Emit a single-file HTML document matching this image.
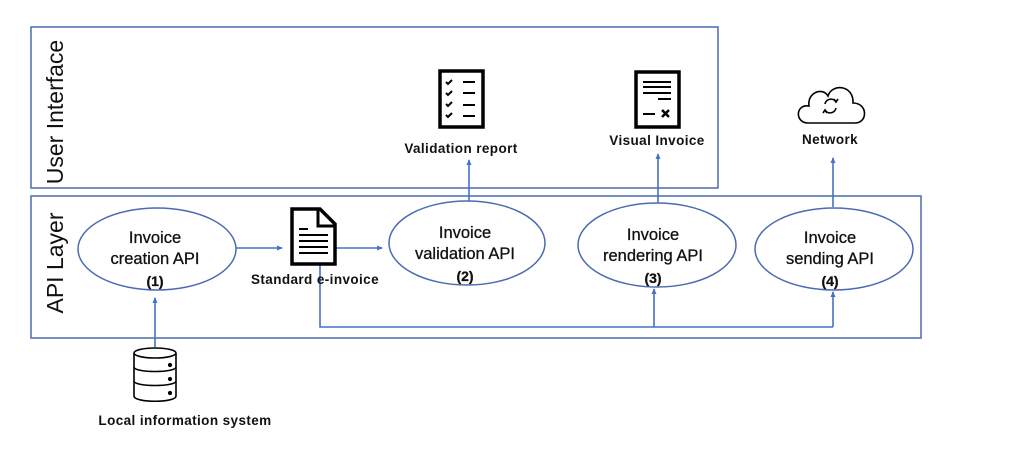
<!DOCTYPE html>
<html><head><meta charset="utf-8"><style>
body{margin:0;background:#fff;}
svg{display:block;font-family:"Liberation Sans",sans-serif;}
</style></head><body>
<svg width="1026" height="450" viewBox="0 0 1026 450" xmlns="http://www.w3.org/2000/svg">
<defs>
<marker id="ah" markerWidth="6" markerHeight="6" refX="5" refY="3" orient="auto" markerUnits="userSpaceOnUse">
<path d="M0,0.5 L6,3 L0,5.5 Z" fill="#4472c4"/></marker>
</defs>
<g fill="none" stroke="#4a6bb0" stroke-width="1.5">
<rect x="31" y="27" width="687" height="161"/>
<rect x="31" y="196" width="890" height="142"/>
<ellipse cx="157" cy="249" rx="79" ry="41"/>
<ellipse cx="467" cy="243" rx="78" ry="42"/>
<ellipse cx="657" cy="245" rx="79" ry="42"/>
<ellipse cx="834" cy="249" rx="79" ry="41"/>
</g>
<g fill="none" stroke="#4472c4" stroke-width="1.6">
<line x1="236" y1="248" x2="282" y2="248" marker-end="url(#ah)"/>
<line x1="336" y1="248" x2="382" y2="248" marker-end="url(#ah)"/>
<line x1="155" y1="347" x2="155" y2="298" marker-end="url(#ah)"/>
<polyline points="320,263 320,327 833,327"/>
<line x1="654" y1="327" x2="654" y2="289" marker-end="url(#ah)"/>
<line x1="833" y1="327" x2="833" y2="292" marker-end="url(#ah)"/>
<line x1="469" y1="201" x2="469" y2="160" marker-end="url(#ah)"/>
<line x1="658" y1="203" x2="658" y2="154" marker-end="url(#ah)"/>
<line x1="833" y1="207" x2="833" y2="158" marker-end="url(#ah)"/>
</g>
<text transform="translate(63,112) rotate(-90)" font-size="23" text-anchor="middle" fill="#111">User Interface</text>
<text transform="translate(63,263) rotate(-90)" font-size="23" text-anchor="middle" fill="#111">API Layer</text>
<g font-size="16.5" text-anchor="middle" fill="#111" stroke="#111" stroke-width="0.3">
<text x="155" y="243">Invoice</text><text x="155" y="264">creation API</text><text x="155" y="286" font-weight="bold" font-size="14">(1)</text>
<text x="465" y="238">Invoice</text><text x="465" y="259">validation API</text><text x="465" y="281" font-weight="bold" font-size="14">(2)</text>
<text x="653" y="240">Invoice</text><text x="653" y="261">rendering API</text><text x="653" y="283" font-weight="bold" font-size="14">(3)</text>
<text x="830" y="243">Invoice</text><text x="830" y="264">sending API</text><text x="830" y="286" font-weight="bold" font-size="14">(4)</text>
</g>
<g font-size="13.5" font-weight="bold" text-anchor="middle" fill="#111" letter-spacing="0.4">
<text x="315" y="284">Standard e-invoice</text>
<text x="461" y="153">Validation report</text>
<text x="657" y="145">Visual Invoice</text>
<text x="830" y="144">Network</text>
<text x="185" y="425">Local information system</text>
</g>
<g stroke="#000" fill="none">
<path d="M292,209 L320,209 L335,224 L335,264 L292,264 Z" stroke-width="3.5"/>
<path d="M318,209 L318,226 L335,226" stroke-width="3"/>
<g stroke-width="2"><line x1="299" y1="229" x2="308" y2="229"/><line x1="299" y1="235" x2="328" y2="235"/><line x1="299" y1="241" x2="328" y2="241"/><line x1="299" y1="247" x2="328" y2="247"/><line x1="299" y1="253" x2="328" y2="253"/></g>
</g>
<g stroke="#000" fill="none">
<rect x="440" y="71" width="43" height="56" stroke-width="3.5"/>
<g stroke-width="2"><path d="M446,82 l2,2 l4,-4"/><path d="M446,93 l2,2 l4,-4"/><path d="M446,104 l2,2 l4,-4"/><path d="M446,115 l2,2 l4,-4"/>
<line x1="463" y1="82" x2="475" y2="82"/><line x1="463" y1="93" x2="475" y2="93"/><line x1="463" y1="105" x2="475" y2="105"/><line x1="463" y1="116" x2="475" y2="116"/></g>
</g>
<g stroke="#000" fill="none">
<rect x="636" y="72" width="43" height="55" stroke-width="3.5"/>
<g stroke-width="2"><line x1="643" y1="82" x2="671" y2="82"/><line x1="643" y1="87" x2="671" y2="87"/><line x1="643" y1="93" x2="671" y2="93"/><line x1="658" y1="99" x2="671" y2="99"/><line x1="643" y1="114" x2="655" y2="114"/>
<path d="M662,110 l7,7 M669,110 l-7,7" stroke-width="2.5"/></g>
</g>
<g stroke="#000" fill="none" stroke-width="1.6">
<path d="M808,123 C795,123 795,104 809,106 C807,92 823,87 828,96 C832,83 854,85 853,103 C868,103 868,123 855,123 Z"/>
<path d="M825,104 a6,6 0 0 1 11,-2 M836,108 a6,6 0 0 1 -11,2"/>
<path d="M834,99 l2,3 l2,-3 M827,113 l-2,-3 l-2,3"/>
</g>
<g stroke="#000" fill="#fff" stroke-width="1.6">
<path d="M134,353 L134,396 C134,403 176,403 176,396 L176,353"/>
<ellipse cx="155" cy="353" rx="21" ry="5"/>
<path d="M134,367 C134,373 176,373 176,367" fill="none"/>
<path d="M134,381 C134,387 176,387 176,381" fill="none"/>
<circle cx="170" cy="365" r="1.3" fill="#000"/><circle cx="170" cy="379" r="1.3" fill="#000"/><circle cx="170" cy="393" r="1.3" fill="#000"/>
</g>
</svg>
</body></html>
